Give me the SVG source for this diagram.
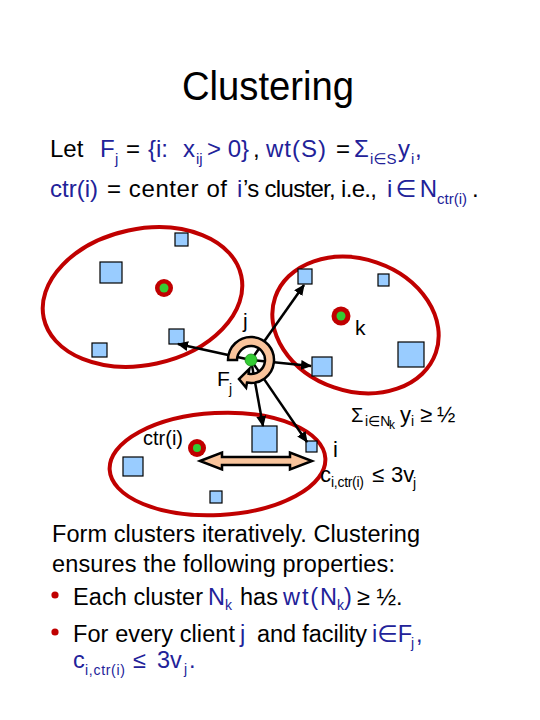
<svg xmlns="http://www.w3.org/2000/svg" width="540" height="720" viewBox="0 0 540 720">
<style>
text{font-family:"Liberation Sans","DejaVu Sans",Arial,sans-serif;fill:#000}
.b{fill:#222299}
.ell{fill:none;stroke:#C00000;stroke-width:4}
.sq{fill:#99CCFF;stroke:#000;stroke-width:1.2}
.ctr{fill:#C00000}
.gr{fill:#33CC33}
.con{stroke:#000;stroke-width:2.5;fill:none;marker-end:url(#ah)}
.peach{fill:#F9C49C;stroke:#000;stroke-width:2.5;stroke-linejoin:miter}
</style>
<defs>
<marker id="ah" markerUnits="userSpaceOnUse" markerWidth="11" markerHeight="10" refX="10" refY="5" orient="auto">
<path d="M0,0 L11,5 L0,10 Z" fill="#000"/>
</marker>
</defs>
<rect width="540" height="720" fill="#fff"/>

<text x="268" y="100" font-size="40" text-anchor="middle" textLength="172" lengthAdjust="spacingAndGlyphs">Clustering</text>

<g id="header" font-size="24">
<text y="157"><tspan x="50">Let</tspan><tspan class="b" x="100">F</tspan><tspan class="b" x="115" y="164" font-size="15">j</tspan><tspan x="126" y="157">=</tspan><tspan class="b" x="148">{i:</tspan><tspan class="b" x="183">x</tspan><tspan class="b" x="196" y="164" font-size="15">ij</tspan><tspan class="b" x="207" y="157">&gt; 0}</tspan><tspan x="253">,</tspan><tspan class="b" x="266" textLength="60">wt(S)</tspan><tspan x="336">=</tspan><tspan class="b" x="354">Σ</tspan><tspan class="b" x="370" y="164" font-size="15">i∈S</tspan><tspan class="b" x="398" y="157">y</tspan><tspan class="b" x="411" y="164" font-size="15">i</tspan><tspan class="b" x="415" y="157">,</tspan></text>
<text y="197"><tspan class="b" x="50">ctr(i)</tspan><tspan x="107" textLength="120">= center of</tspan><tspan class="b" x="237">i</tspan><tspan x="243" textLength="134">’s cluster, i.e.,</tspan><tspan class="b" x="387" textLength="50">i∈N</tspan><tspan class="b" x="437" y="204" font-size="15" textLength="30">ctr(i)</tspan><tspan x="472" y="197">.</tspan></text>
</g>

<g id="cluster-left">
<ellipse class="ell" cx="142.5" cy="297" rx="101" ry="68" transform="rotate(-12 142.5 297)"/>
<rect class="sq" x="100" y="262" width="22" height="21"/>
<rect class="sq" x="175" y="233" width="13" height="13"/>
<rect class="sq" x="169" y="329" width="15" height="15"/>
<rect class="sq" x="92" y="343" width="15" height="14"/>
<circle class="ctr" cx="164" cy="288" r="9"/>
<circle class="gr" cx="164" cy="288" r="4.5"/>
</g>

<g id="cluster-k">
<ellipse class="ell" cx="355.5" cy="325" rx="85" ry="66" transform="rotate(19 355.5 325)"/>
<rect class="sq" x="298" y="269" width="14" height="15"/>
<rect class="sq" x="378" y="274" width="11" height="12"/>
<rect class="sq" x="398" y="342" width="26" height="25"/>
<rect class="sq" x="312" y="357" width="20" height="19"/>
<circle class="ctr" cx="341" cy="316" r="9.5"/>
<circle class="gr" cx="341" cy="316" r="4.5"/>
<text x="355" y="335" font-size="21">k</text>
</g>

<g id="cluster-ctr">
<ellipse class="ell" cx="217.5" cy="464" rx="108" ry="51" transform="rotate(-3 217.5 464)"/>
<rect class="sq" x="252" y="426" width="25" height="26"/>
<rect class="sq" x="123" y="457" width="20" height="19"/>
<rect class="sq" x="210" y="491" width="12" height="12"/>
<rect class="sq" x="306" y="441" width="11" height="11"/>
<circle class="ctr" cx="197" cy="448" r="9"/>
<circle class="gr" cx="197" cy="448" r="4"/>
<text x="143" y="445" font-size="20">ctr(i)</text>
<path class="peach" d="M200,461 L222,452.5 L222,457 L290,457 L290,452.5 L312,461 L290,469.5 L290,465 L222,465 L222,469.5 Z" stroke-width="2.2"/>
<text x="333" y="457" font-size="22">i</text>
</g>

<g id="connectors">
<path class="con" d="M251,360 L178,344"/>
<path class="con" d="M251,360 L304,285"/>
<path class="con" d="M251,360 L311,366"/>
<path class="con" d="M251,360 L263,426"/>
<path class="con" d="M251,360 L307,442"/>
</g>

<g id="client-j">
<path class="peach" d="M228,360 A23,23 0 1,1 247,382.6 L246.1,387.6 L239,379 L249.4,368.9 L248.6,373.8 A14,14 0 1,0 237,360 Z"/>
<circle cx="251" cy="360" r="6" fill="#33CC33" stroke="#1a8a1a" stroke-width="0.8"/>
<text x="243" y="328" font-size="21">j</text>
<text x="217" y="386" font-size="21">F</text>
<text x="229" y="394" font-size="14">j</text>
</g>

<g id="labels" font-size="22">
<text y="422"><tspan x="351" font-size="20">Σ</tspan><tspan x="365" y="426" font-size="14">i∈N</tspan><tspan x="389" y="429" font-size="12">k</tspan><tspan x="400" y="422">y</tspan><tspan x="411" y="426" font-size="14">i</tspan><tspan x="420" y="422">≥</tspan><tspan x="437">½</tspan></text>
<text y="482"><tspan x="320">c</tspan><tspan x="331" y="487" font-size="14" textLength="33">i,ctr(i)</tspan><tspan x="372" y="482">≤</tspan><tspan x="391">3v</tspan><tspan x="413" y="488" font-size="14">j</tspan></text>
</g>

<g id="body" font-size="23.5">
<text x="52" y="542" textLength="368">Form clusters iteratively. Clustering</text>
<text x="52" y="572" textLength="343">ensures the following properties:</text>
<circle cx="55" cy="595" r="3.6" fill="#C00000"/>
<circle cx="55" cy="632" r="3.6" fill="#C00000"/>
<text y="605"><tspan x="73" textLength="130">Each cluster</tspan><tspan class="b" x="208">N</tspan><tspan class="b" x="225" y="610" font-size="14">k</tspan><tspan x="240" y="605">has</tspan><tspan class="b" x="283" textLength="54">wt(N</tspan><tspan class="b" x="337" y="610" font-size="14">k</tspan><tspan class="b" x="344" y="605">)</tspan><tspan x="357">≥ ½.</tspan></text>
<text y="642"><tspan x="73" textLength="162">For every client</tspan><tspan class="b" x="240">j</tspan><tspan x="257" textLength="110">and facility</tspan><tspan class="b" x="372">i∈F</tspan><tspan class="b" x="411" y="648" font-size="14">j</tspan><tspan class="b" x="416" y="642">,</tspan></text>
<text y="668" class="b"><tspan class="b" x="73">c</tspan><tspan class="b" x="85" y="675" font-size="14" textLength="40">i,ctr(i)</tspan><tspan class="b" x="133" y="668">≤</tspan><tspan class="b" x="157">3v</tspan><tspan class="b" x="184" y="674" font-size="14">j</tspan><tspan class="b" x="189" y="668">.</tspan></text>
</g>
</svg>
